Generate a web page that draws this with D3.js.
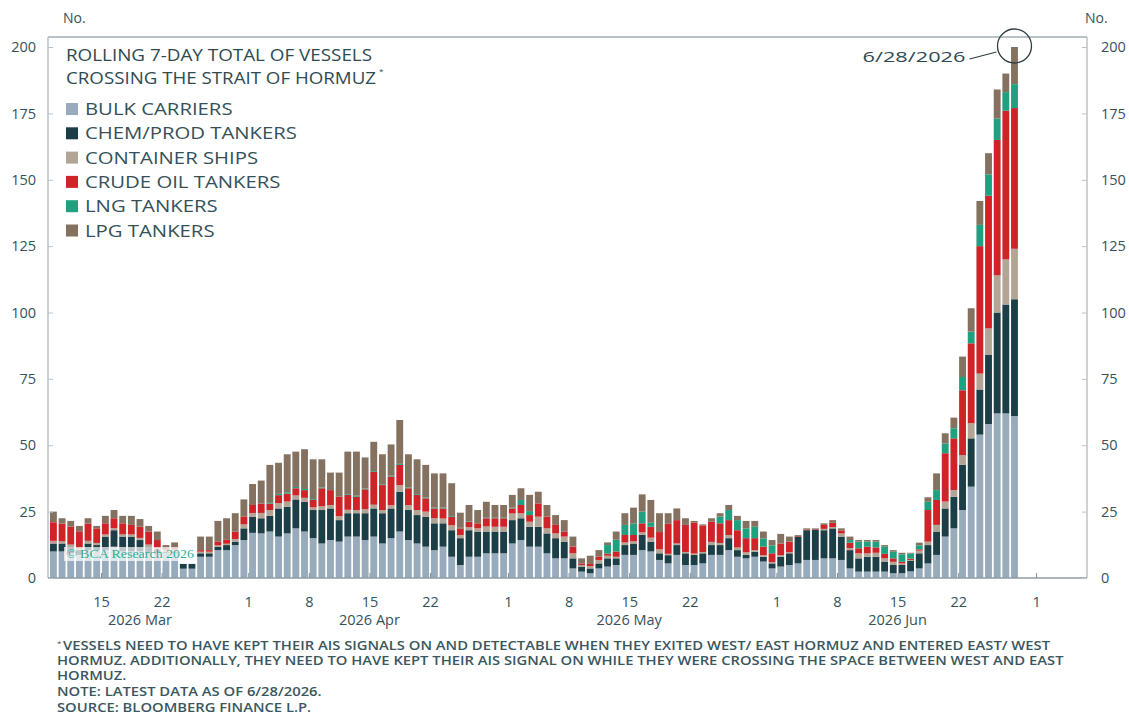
<!DOCTYPE html>
<html><head><meta charset="utf-8">
<script src="https://cdn.jsdelivr.net/npm/d3@7"></script>
<style>body{margin:0;background:#fff;} svg{display:block;}</style>
</head><body>
<svg id="c" width="1129" height="718"></svg>
<script>
// ---------------- data ----------------
const startDate = "2026-03-09";
const bulk = [10,10,9.3,8.7,10.5,10.5,10.5,11.8,10,10,
 10,9.3,9.3,9.5,9.5,3.5,3.5,8,8,10.5,
 10.5,12.4,14.3,17,16.8,17.5,15.6,16.8,18.7,17.5,
 15,13,14.3,13.7,15.6,15.6,14.3,15.6,13,15,
 17.5,14.3,13,11.8,10.5,11.8,8,4.9,8,8,
 9.3,9.3,9.3,13,14.3,11.8,11.8,9.3,7.4,7.4,
 3.6,2.4,1.8,3.6,4.3,4.9,8.7,8.7,10.5,10,
 6.8,5.5,8.7,4.9,4.9,5.5,8.7,8.7,10.5,8,
 7.4,8,6.2,3.6,4.3,4.9,5.5,6.8,6.8,7.4,
 7.4,6.8,3.6,2.4,2.4,2.4,2.4,1.8,1.8,2.5,
 3.6,5.5,8.7,15.6,18.7,25.6,34.4,54,58,62,62,61];
const chemProd = [3,3,2.5,1.8,2.5,1.9,5.1,6.2,5.6,5.6,
 4.3,2.5,1.2,0.4,0.4,1.8,1.8,1.3,1.3,1.3,
 1.9,1.3,4.4,6,5.7,5.9,10.6,10,10.9,11.2,
 10.6,12.6,11.9,8.1,8.8,8.8,10.1,10.6,11.4,11.2,
 15,11.3,10.7,11.3,10.1,8.8,10,10.1,10,9.5,
 8.2,8.2,8.2,8.8,8.2,7.5,7.5,7.5,7.6,6.3,
 3.8,1.9,1.8,1.9,3.1,2.5,3.7,4.3,5.7,3.7,
 2.5,3.1,3.7,4.4,3.8,3.8,3.7,3.7,4.5,2.5,
 1.3,1.9,1.8,1.9,3.7,4.4,10.1,11.2,11.4,10.6,
 11.3,8.8,6.9,5,5.6,5.6,3.8,3.1,3.1,3.9,
 5.7,6.9,8.8,10.6,11.9,17,18.2,17,26,38,41,44];
const container = [1,0.8,0.8,0.8,1,0.8,0.8,0.8,0.8,0.8,
 0.8,0.8,0.8,0.8,1,0,0,0.6,0.6,0.5,
 0.5,1,1.5,1.5,2,2.2,2,2,1.5,1.5,
 1,1.4,1.3,1.5,1.3,1.2,1.5,1.4,1.2,1.2,
 2.5,1.9,1.9,1.9,1.9,1.8,1.9,1.2,1.2,1.2,
 1.9,1.8,1.8,2.5,1.9,1.9,3.8,1.9,1.8,1.9,
 1.9,0.6,0.9,1.3,1,0.6,1,0.8,1,1.5,
 1.5,0.5,0.6,0.5,0.5,0.5,1.2,0.8,1.2,1,
 1,0.6,0.6,0.5,0.6,0.4,0,0,0,0.5,
 0.5,1.2,0.8,1.9,1.3,1.5,1.2,1.2,0.6,0.4,
 1,1.3,2.5,2.6,2.5,3.7,5.7,6,10,14,17,19];
const crudeOil = [7,6.7,6.7,6.3,6.5,5.5,4.2,3.7,4.2,3.6,
 4.2,4.9,3,0.2,0.3,0,0,0.6,0.6,1.5,
 1.5,2.8,3,3,3.5,2.4,3,3,2.7,2.9,
 2.8,6.8,5.6,7.3,5.6,5,7.5,12.4,9.4,10.8,
 7.6,6.3,5.7,5,3.7,3.8,3.1,2.5,2,1.9,
 3.1,3.2,3.2,1.9,3.1,2.5,5,4.4,3.2,1.9,
 2.5,0.6,0.8,1.2,0.8,2,2.8,2.4,3.4,4.1,
 6.5,11.3,8.8,10.2,11.6,10,7.6,7.4,5.6,6.5,
 5.3,4.5,3.2,3.3,4.4,4,0.3,0.3,0.2,1.5,
 1.6,1.1,2,1.9,2.5,2,1.7,1.3,0.6,0.5,
 0.5,11.9,9.4,18.2,19.5,24.4,30.1,48,50,51,56,53];
const lng = [0,0,0,0,0,0,0,0,0,0,
 0,0,0,0,0,0,0,0,0,0,
 0,0,0,0,0,0.3,0.5,0.5,0.5,0.4,
 0.3,0.3,0,0,0.3,0.4,0.3,0.3,0.3,0.3,
 0.4,0.3,0.3,0.3,0.3,0.3,0.3,0.2,0.2,0,
 0.2,0.2,0.2,0.3,1.9,1.5,0,0,0,0,
 0,0,0,0,3.2,4.4,3.8,4.4,4.4,1.5,
 0,0,0,0,0,0,0,2.5,3.8,3.8,
 3.7,4.3,3.1,3,0,0,0,0,0,0,
 0,0,1,2.5,1.9,2.2,2.7,2.5,2.8,1.9,
 1.5,3.1,3.7,3.7,3.8,5,4.4,8,8,8,7,9];
const lpg = [4,2,2.2,2,2,0.9,2.8,3.1,2.8,3.4,
 2.9,2.1,3.2,1.5,2.2,0,0,5.1,5.1,7.7,
 8.1,6.9,6.4,7.9,8.7,14.3,11.7,14.3,13.3,15,
 15,10.6,6.6,9.1,16,16.6,11.7,11,11.3,11.8,
 16.5,12.5,13.1,12.3,12.9,12.9,12.4,5.7,6.1,5,
 6,4.8,4.8,4.8,4.4,6.1,4.4,4.4,3.7,4.3,
 3.8,1.9,3.1,2.5,1,3.1,4.4,5.9,6.5,8.6,
 7.1,4,4.4,2.5,0.7,0.4,1.3,1.3,1.9,1.6,
 2.8,2.2,2.6,2,3.6,1.9,0.3,0.4,0.3,0.6,
 1,0.8,1.3,0.6,0.6,0.6,0.6,0.6,0.6,0.3,
 1,1.7,6.3,3.8,4,7.7,8.8,9,8,11,7,14];

const seriesNames = ["BULK CARRIERS","CHEM/PROD TANKERS","CONTAINER SHIPS","CRUDE OIL TANKERS","LNG TANKERS","LPG TANKERS"];
const seriesColors = ["#97abbd","#1c3e46","#b3a596","#cf2328","#1fa07f","#84715f"];
const yTicks = [0,25,50,75,100,125,150,175,200];
const xTickDates = ["2026-03-15","2026-03-22","2026-04-01","2026-04-08","2026-04-15","2026-04-22","2026-05-01","2026-05-08","2026-05-15","2026-05-22","2026-06-01","2026-06-08","2026-06-15","2026-06-22","2026-07-01"];
const xTickLabels = ["15","22","1","8","15","22","1","8","15","22","1","8","15","22","1"];
const monthLabels = ["2026 Mar","2026 Apr","2026 May","2026 Jun"];
const monthLabelDates = ["2026-03-19T12:00:00Z","2026-04-15T00:00:00Z","2026-05-15T00:00:00Z","2026-06-15T00:00:00Z"];
const titleLines = ["ROLLING 7-DAY TOTAL OF VESSELS","CROSSING THE STRAIT OF HORMUZ"];
const footnotes = [
 "VESSELS NEED TO HAVE KEPT THEIR AIS SIGNALS ON AND DETECTABLE WHEN THEY EXITED WEST/ EAST HORMUZ AND ENTERED EAST/ WEST",
 "HORMUZ. ADDITIONALLY, THEY NEED TO HAVE KEPT THEIR AIS SIGNAL ON WHILE THEY WERE CROSSING THE SPACE BETWEEN WEST AND EAST",
 "HORMUZ.",
 "NOTE: LATEST DATA AS OF 6/28/2026.",
 "SOURCE: BLOOMBERG FINANCE L.P."];
const annotationLabel = "6/28/2026";

// ---------------- build ----------------
const svg = d3.select("#c");
const W = 1129, H = 718;
const M = {left:48, right:1087, top:37, bottom:578};
const textCol = "#35525b";
const axisCol = "#b9c3c7";
const font = "'Open Sans', 'Noto Sans', sans-serif";

const parseDay = d3.utcParse("%Y-%m-%d");
const d0 = parseDay(startDate);
const keys = ["bulk","chem","cont","crude","lng","lpg"];
const cols = [bulk, chemProd, container, crudeOil, lng, lpg];
const rows = bulk.map((_, i) => {
  const r = {date: d3.utcDay.offset(d0, i)};
  keys.forEach((k, j) => r[k] = cols[j][i]);
  return r;
});
const stacked = d3.stack().keys(keys)(rows);

const x = d3.scaleUtc()
  .domain([Date.UTC(2026,2,8,21), Date.UTC(2026,6,6,21)])
  .range([M.left, M.right]);
const y = d3.scaleLinear().domain([0,200]).range([M.bottom, 47]);

svg.append("rect").attr("width",W).attr("height",H).attr("fill","#fff");

// bars
const gBars = svg.append("g");
stacked.forEach((layer, j) => {
  gBars.append("g").attr("fill", seriesColors[j])
    .selectAll("rect").data(layer).join("rect")
    .attr("x", d => x(d.data.date) + 0.9)
    .attr("width", d => x(d3.utcDay.offset(d.data.date,1)) - x(d.data.date) - 1.8)
    .attr("y", d => y(d[1]))
    .attr("height", d => Math.max(0, y(d[0]) - y(d[1])));
});

// watermark
const wm = svg.append("g");
wm.append("rect").attr("x", 64).attr("y", 547).attr("width", 132).attr("height", 14)
  .attr("fill", "#fff").attr("opacity", 0.7);
wm.append("text").attr("x", 66).attr("y", 558)
  .attr("font-family","'Liberation Serif', 'DejaVu Serif', serif").attr("font-size", 12)
  .attr("fill", "#2fae93").text("© BCA Research 2026")
  .attr("textLength", 128).attr("lengthAdjust","spacingAndGlyphs");

// frame
const frame = svg.append("g").attr("stroke", axisCol).attr("fill","none");
frame.append("line").attr("x1",M.left).attr("x2",M.right).attr("y1",M.top).attr("y2",M.top).attr("stroke-width",2);
frame.append("line").attr("x1",M.left).attr("x2",M.left).attr("y1",M.top).attr("y2",M.bottom).attr("stroke-width",1.5);
frame.append("line").attr("x1",M.right).attr("x2",M.right).attr("y1",M.top).attr("y2",M.bottom).attr("stroke-width",1.5);
frame.append("line").attr("x1",M.left).attr("x2",M.right).attr("y1",M.bottom).attr("y2",M.bottom).attr("stroke","#8f9ea5").attr("stroke-width",1.5);

// y axes
const yL = svg.append("g").attr("transform",`translate(${M.left},0)`)
  .call(d3.axisLeft(y).tickValues(yTicks).tickSize(-5).tickPadding(12));
const yR = svg.append("g").attr("transform",`translate(${M.right},0)`)
  .call(d3.axisRight(y).tickValues(yTicks).tickSize(-5).tickPadding(14));
[yL, yR].forEach(g => {
  g.select(".domain").remove();
  g.selectAll("line").attr("stroke", axisCol);
  g.selectAll("text").attr("font-family", font).attr("font-size", 14.5).attr("fill", textCol);
});

// x axis
const xDates = xTickDates.map(parseDay);
const xa = svg.append("g").attr("transform",`translate(0,${M.bottom})`)
  .call(d3.axisBottom(x).tickValues(xDates).tickFormat((d,i) => xTickLabels[i]).tickSize(-5).tickPadding(19));
xa.select(".domain").remove();
xa.selectAll("line").attr("stroke", "#7f8f96");
xa.selectAll("text").attr("font-family", font).attr("font-size", 14.5).attr("fill", textCol);

svg.append("g").selectAll("text").data(monthLabels).join("text")
  .attr("x", (d,i) => x(d3.isoParse(monthLabelDates[i])))
  .attr("y", 625).attr("text-anchor","middle")
  .attr("font-family", font).attr("font-size", 14.5).attr("fill", textCol)
  .text(d => d);

// "No." labels
svg.append("text").attr("x", 63).attr("y", 23).attr("font-family", font).attr("font-size", 14).attr("fill", textCol).text("No.");
svg.append("text").attr("x", 1085).attr("y", 23).attr("font-family", font).attr("font-size", 14).attr("fill", textCol).text("No.");

// title
const titleCol = "#2e4a52";
svg.append("text").attr("x", 66).attr("y", 61).attr("font-family", font).attr("font-size", 16)
  .attr("fill", titleCol).attr("textLength", 306).attr("lengthAdjust","spacingAndGlyphs").text(titleLines[0]);
svg.append("text").attr("x", 66).attr("y", 84).attr("font-family", font).attr("font-size", 16)
  .attr("fill", titleCol).attr("textLength", 310).attr("lengthAdjust","spacingAndGlyphs").text(titleLines[1]);
svg.append("text").attr("x", 66 + 313).attr("y", 74).attr("font-family", font).attr("font-size", 8)
  .attr("fill", titleCol).text("*");

// legend
const lg = svg.append("g");
const legTexts = [];
seriesNames.forEach((n, i) => {
  const cy = 109 + i * 24.3;
  lg.append("rect").attr("x", 66).attr("y", cy - 6).attr("width", 12).attr("height", 12).attr("fill", seriesColors[i]);
  legTexts.push(lg.append("text").attr("x", 85).attr("y", cy + 6).attr("font-family", font).attr("font-size", 16.5)
    .attr("fill", "#34515a").text(n));
});
const legW = legTexts.map(t => t.node().getComputedTextLength());
const lf = 212 / legW[1];
legTexts.forEach((t, i) => t.attr("textLength", legW[i] * lf).attr("lengthAdjust","spacingAndGlyphs"));

// annotation
const last = rows[rows.length - 1];
const lastTop = d3.sum(keys, k => last[k]);
const cx = x(d3.utcHour.offset(last.date, 12)), cyA = y(lastTop) - 1;
svg.append("circle").attr("cx", cx).attr("cy", cyA).attr("r", 17)
  .attr("fill","none").attr("stroke","#2f3f45").attr("stroke-width",1.3);
svg.append("line").attr("x1", cx - 45).attr("y1", cyA + 13).attr("x2", cx - 18).attr("y2", cyA + 6)
  .attr("stroke","#2f3f45").attr("stroke-width",1.2);
svg.append("text").attr("x", cx - 49).attr("y", cyA + 16).attr("text-anchor","end")
  .attr("font-family", font).attr("font-size", 14.5).attr("fill", titleCol)
  .attr("textLength", 103).attr("lengthAdjust","spacingAndGlyphs").text(annotationLabel);

// footnotes
const fy = [650, 665, 680, 696, 712];
const fts = footnotes.map((f, i) => svg.append("text").attr("x", i === 0 ? 63 : 57).attr("y", fy[i])
  .attr("font-family", font).attr("font-size", 12).attr("font-weight", 600).attr("fill", "#3a565e").text(f));
svg.append("text").attr("x", 57).attr("y", fy[0] - 4).attr("font-family", font).attr("font-size", 8)
  .attr("fill", "#3a565e").text("*");
const fW = fts.map(t => t.node().getComputedTextLength());
const ff = 987 / fW[0];
fts.forEach((t, i) => t.attr("textLength", fW[i] * ff).attr("lengthAdjust","spacingAndGlyphs"));
</script>
</body></html>
